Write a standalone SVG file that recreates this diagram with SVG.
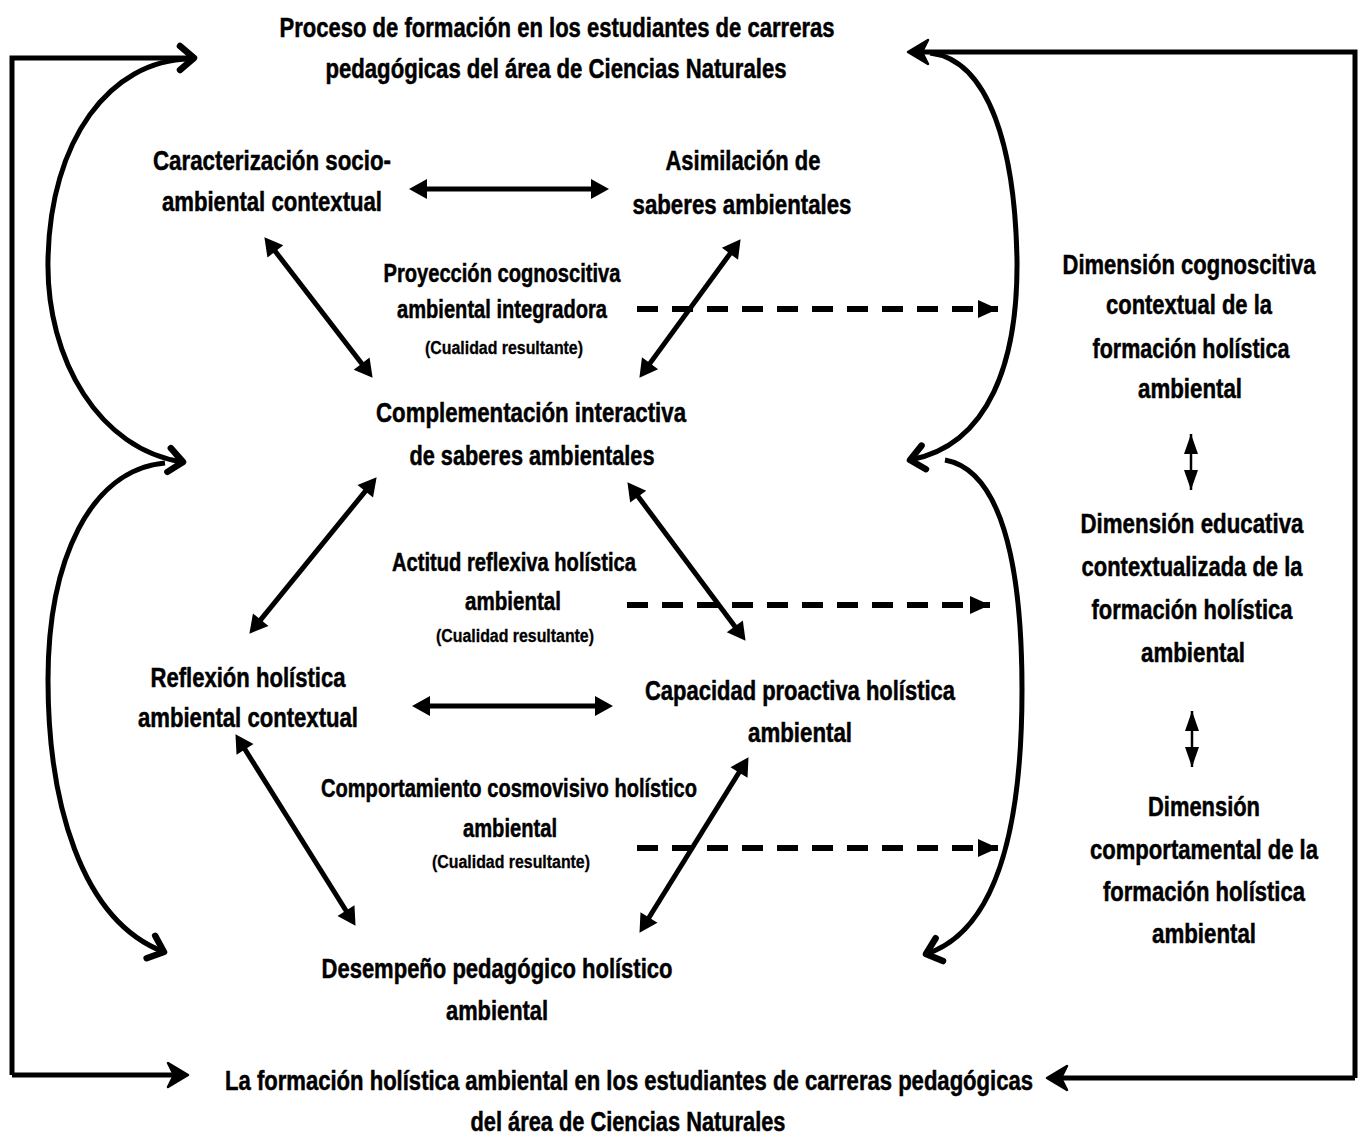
<svg xmlns="http://www.w3.org/2000/svg" width="1364" height="1140" viewBox="0 0 1364 1140">
<style>
text{font-family:"Liberation Sans Narrow","Liberation Sans",Arial,sans-serif;font-weight:bold;fill:#000;stroke:#000;stroke-width:0.5;text-anchor:middle}
.m{font-size:27px}
.s{font-size:25px}
.xs{font-size:18px;stroke-width:0.3}
.ln{fill:none;stroke:#000;stroke-width:5}
.dbl{fill:none;stroke:#000;stroke-width:5;marker-start:url(#tri);marker-end:url(#tri)}
.dash{fill:none;stroke:#000;stroke-width:6;stroke-dasharray:21 14;marker-end:url(#dtri)}
.thin{fill:none;stroke:#000;stroke-width:2.5;marker-start:url(#vtri);marker-end:url(#vtri)}
</style>
<defs>
<marker id="tri" markerUnits="userSpaceOnUse" markerWidth="40" markerHeight="40" refX="0" refY="0" viewBox="-20 -20 40 40" orient="auto-start-reverse">
<path d="M-7 -10 L11 0 L-7 10 Z" fill="#000"/>
</marker>
<marker id="dtri" markerUnits="userSpaceOnUse" markerWidth="30" markerHeight="30" refX="0" refY="0" viewBox="-22 -15 30 30" orient="auto">
<path d="M-20 -9 L0 0 L-20 9 Z" fill="#000"/>
</marker>
<marker id="vtri" markerUnits="userSpaceOnUse" markerWidth="30" markerHeight="30" refX="0" refY="0" viewBox="-22 -15 30 30" orient="auto-start-reverse">
<path d="M-20 -7 L0 0 L-20 7 Z" fill="#000"/>
</marker>
<marker id="chev" markerUnits="userSpaceOnUse" markerWidth="40" markerHeight="40" refX="0" refY="0" viewBox="-20 -20 40 40" orient="auto">
<path d="M-14 -12 L0 0 L-14 12" fill="none" stroke="#000" stroke-width="6.5" stroke-linecap="round" stroke-linejoin="round"/>
</marker>
<marker id="big" markerUnits="userSpaceOnUse" markerWidth="44" markerHeight="44" refX="0" refY="0" viewBox="-22 -22 44 44" orient="auto">
<path d="M-17 -12 L3 0 L-17 12 L-11 0 Z" fill="#000" stroke="#000" stroke-width="2.5" stroke-linejoin="round"/>
</marker>
</defs>

<g id="connectors">
<path class="ln" d="M12 1075 L12 58 L194 58" marker-end="url(#chev)"/>
<path class="ln" d="M12 1075 L185 1075" marker-end="url(#big)"/>
<path class="ln" d="M1355 1078 L1355 52 L911 52" marker-end="url(#big)"/>
<path class="ln" d="M1355 1078 L1050 1078" marker-end="url(#big)"/>
<path class="ln" d="M190 59 C110 60, 50 140, 48 260 C46 360, 100 450, 183 462" marker-end="url(#chev)"/>
<path class="ln" d="M165 463 C90 470, 48 560, 48 680 C48 800, 80 920, 164 952" marker-end="url(#chev)"/>
<path class="ln" d="M930 53 C990 60, 1015 150, 1017 260 C1018 360, 990 445, 910 460" marker-end="url(#chev)"/>
<path class="ln" d="M945 460 C1000 470, 1022 560, 1022 690 C1022 820, 1000 930, 926 954" marker-end="url(#chev)"/>
<path class="dbl" d="M420 189 L598 189"/>
<path class="dbl" d="M271.1 245.9 L365.9 369.1"/>
<path class="dbl" d="M734.1 248.1 L645.9 368.9"/>
<path class="dbl" d="M369.7 485.8 L256.3 625.2"/>
<path class="dbl" d="M634 491 L739 632"/>
<path class="dbl" d="M423 706 L602 706"/>
<path class="dbl" d="M241.3 743.5 L349.7 916.5"/>
<path class="dbl" d="M742.7 766.5 L645.3 923.5"/>
<path class="dash" d="M637 309 L998 309"/>
<path class="dash" d="M627 605 L990 605"/>
<path class="dash" d="M637 848 L998 848"/>
<path class="thin" d="M1191 434 L1191 490"/>
<path class="thin" d="M1192 711 L1192 767"/>
</g>

<g id="n-title">
<text class="m" x="557" y="37" textLength="555" lengthAdjust="spacingAndGlyphs">Proceso de formación en los estudiantes de carreras</text>
<text class="m" x="556" y="78" textLength="461" lengthAdjust="spacingAndGlyphs">pedagógicas del área de Ciencias Naturales</text>
</g>
<g id="n-caracterizacion">
<text class="m" x="272" y="170" textLength="238" lengthAdjust="spacingAndGlyphs">Caracterización socio-</text>
<text class="m" x="272" y="211" textLength="220" lengthAdjust="spacingAndGlyphs">ambiental contextual</text>
</g>
<g id="n-asimilacion">
<text class="m" x="743" y="170" textLength="155" lengthAdjust="spacingAndGlyphs">Asimilación de</text>
<text class="m" x="742" y="214" textLength="219" lengthAdjust="spacingAndGlyphs">saberes ambientales</text>
</g>
<g id="n-proyeccion">
<text class="s" x="502" y="282" textLength="237" lengthAdjust="spacingAndGlyphs">Proyección cognoscitiva</text>
<text class="s" x="502" y="318" textLength="210" lengthAdjust="spacingAndGlyphs">ambiental integradora</text>
<text class="xs" x="504" y="354" textLength="158" lengthAdjust="spacingAndGlyphs">(Cualidad resultante)</text>
</g>
<g id="n-complementacion">
<text class="m" x="531" y="422" textLength="310" lengthAdjust="spacingAndGlyphs">Complementación interactiva</text>
<text class="m" x="532" y="465" textLength="245" lengthAdjust="spacingAndGlyphs">de saberes ambientales</text>
</g>
<g id="n-actitud">
<text class="s" x="514" y="571" textLength="244" lengthAdjust="spacingAndGlyphs">Actitud reflexiva holística</text>
<text class="s" x="513" y="610" textLength="96" lengthAdjust="spacingAndGlyphs">ambiental</text>
<text class="xs" x="515" y="642" textLength="158" lengthAdjust="spacingAndGlyphs">(Cualidad resultante)</text>
</g>
<g id="n-reflexion">
<text class="m" x="248" y="687" textLength="195" lengthAdjust="spacingAndGlyphs">Reflexión holística</text>
<text class="m" x="248" y="727" textLength="220" lengthAdjust="spacingAndGlyphs">ambiental contextual</text>
</g>
<g id="n-capacidad">
<text class="m" x="800" y="700" textLength="310" lengthAdjust="spacingAndGlyphs">Capacidad proactiva holística</text>
<text class="m" x="800" y="742" textLength="104" lengthAdjust="spacingAndGlyphs">ambiental</text>
</g>
<g id="n-comportamiento">
<text class="s" x="509" y="797" textLength="376" lengthAdjust="spacingAndGlyphs">Comportamiento cosmovisivo holístico</text>
<text class="s" x="510" y="837" textLength="94" lengthAdjust="spacingAndGlyphs">ambiental</text>
<text class="xs" x="511" y="868" textLength="158" lengthAdjust="spacingAndGlyphs">(Cualidad resultante)</text>
</g>
<g id="n-desempeno">
<text class="m" x="497" y="978" textLength="351" lengthAdjust="spacingAndGlyphs">Desempeño pedagógico holístico</text>
<text class="m" x="497" y="1020" textLength="102" lengthAdjust="spacingAndGlyphs">ambiental</text>
</g>
<g id="n-resultado">
<text class="m" x="629" y="1090" textLength="808" lengthAdjust="spacingAndGlyphs">La formación holística ambiental en los estudiantes de carreras pedagógicas</text>
<text class="m" x="628" y="1131" textLength="315" lengthAdjust="spacingAndGlyphs">del área de Ciencias Naturales</text>
</g>
<g id="n-dim-cognoscitiva">
<text class="m" x="1189" y="274" textLength="253" lengthAdjust="spacingAndGlyphs">Dimensión cognoscitiva</text>
<text class="m" x="1189" y="314" textLength="166" lengthAdjust="spacingAndGlyphs">contextual de la</text>
<text class="m" x="1191" y="358" textLength="197" lengthAdjust="spacingAndGlyphs">formación holística</text>
<text class="m" x="1190" y="398" textLength="104" lengthAdjust="spacingAndGlyphs">ambiental</text>
</g>
<g id="n-dim-educativa">
<text class="m" x="1192" y="533" textLength="223" lengthAdjust="spacingAndGlyphs">Dimensión educativa</text>
<text class="m" x="1192" y="576" textLength="221" lengthAdjust="spacingAndGlyphs">contextualizada de la</text>
<text class="m" x="1192" y="619" textLength="201" lengthAdjust="spacingAndGlyphs">formación holística</text>
<text class="m" x="1193" y="662" textLength="104" lengthAdjust="spacingAndGlyphs">ambiental</text>
</g>
<g id="n-dim-comportamental">
<text class="m" x="1204" y="816" textLength="112" lengthAdjust="spacingAndGlyphs">Dimensión</text>
<text class="m" x="1204" y="859" textLength="228" lengthAdjust="spacingAndGlyphs">comportamental de la</text>
<text class="m" x="1204" y="901" textLength="202" lengthAdjust="spacingAndGlyphs">formación holística</text>
<text class="m" x="1204" y="943" textLength="104" lengthAdjust="spacingAndGlyphs">ambiental</text>
</g>
</svg>
